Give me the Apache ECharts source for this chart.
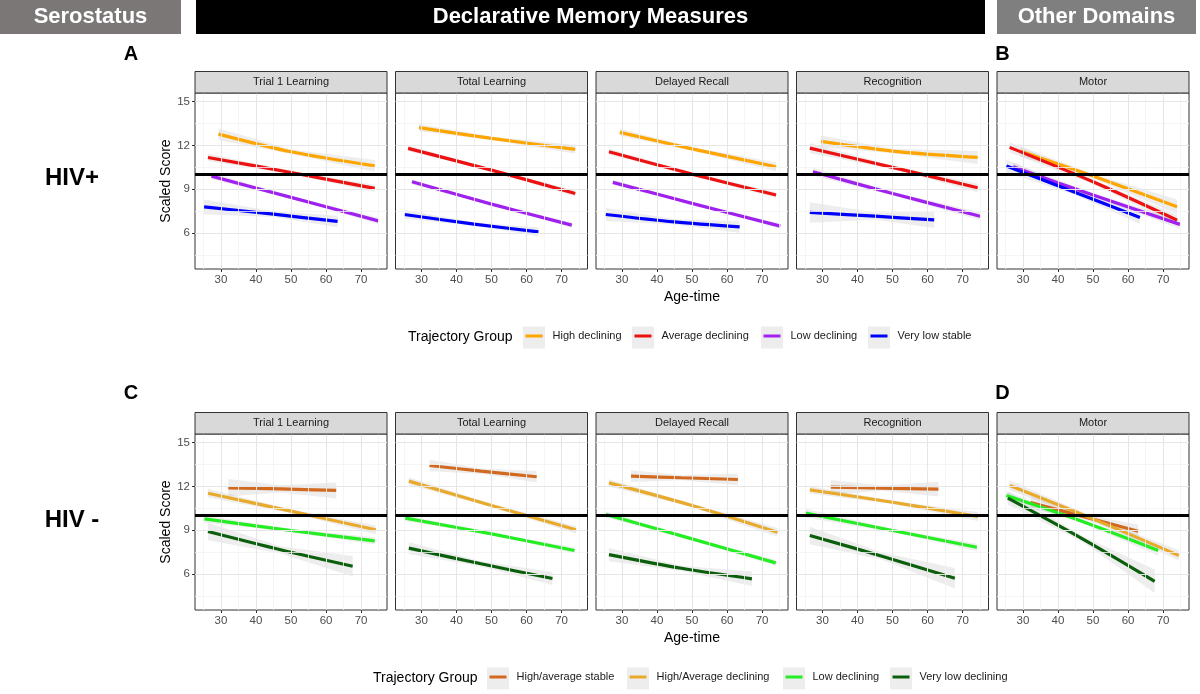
<!DOCTYPE html>
<html><head><meta charset="utf-8">
<script src="https://cdn.jsdelivr.net/npm/echarts@6/dist/echarts.min.js"></script>
<style>html,body{margin:0;padding:0;background:#fff}#c{width:1200px;height:694px}</style>
</head><body><div id="c"></div>
<script>
// ---------- chart data ----------
const panelNames = ['Trial 1 Learning', 'Total Learning', 'Delayed Recall', 'Recognition', 'Motor'];
const xTickVals = [30, 40, 50, 60, 70];
const xMinorVals = [25, 35, 45, 55, 65, 75];
const yTickVals = [6, 9, 12, 15];
const yMinorVals = [4.5, 7.5, 10.5, 13.5];
const refScore = 10;
const xRange = [22.6, 77.4];
const yRange = [3.53, 15.6];

const posGroups = ['High declining', 'Average declining', 'Low declining', 'Very low stable'];
const negGroups = ['High/average stable', 'High/Average declining', 'Low declining', 'Very low declining'];

// HIV+ : age-time (start, middle, end) of each fitted line per panel, scaled score, half-width of band
const posHighAge = [[29.3, 50, 73.9], [29.3, 50, 73.9], [29.4, 50, 74.0], [29.6, 50, 74.3], [29.3, 50, 74.0]];
const posHighScore = [[12.78, 11.57, 10.6], [13.22, 12.49, 11.73], [12.9, 11.77, 10.54], [12.28, 11.62, 11.18], [11.6, 9.9, 7.8]];
const posHighSE = [[0.4, 0.15, 0.4], [0.25, 0.12, 0.3], [0.25, 0.12, 0.3], [0.4, 0.15, 0.45], [0.35, 0.15, 0.5]];

const posAvgAge = [[26.3, 50, 73.9], [26.2, 50, 73.9], [26.3, 50, 74.0], [26.4, 50, 74.3], [26.2, 50, 74.0]];
const posAvgScore = [[11.18, 10.15, 9.06], [11.8, 10.31, 8.71], [11.57, 10.04, 8.6], [11.82, 10.5, 9.1], [11.87, 9.51, 6.88]];
const posAvgSE = [[0.25, 0.12, 0.25], [0.2, 0.1, 0.2], [0.2, 0.1, 0.2], [0.35, 0.12, 0.3], [0.35, 0.15, 0.35]];

const posLowAge = [[27.3, 50, 74.9], [27.3, 50, 72.9], [27.4, 50, 75.2], [27.3, 50, 75.0], [27.2, 50, 74.8]];
const posLowScore = [[9.9, 8.44, 6.83], [9.51, 7.98, 6.54], [9.47, 8.03, 6.47], [10.2, 8.71, 7.15], [10.54, 8.6, 6.59]];
const posLowSE = [[0.22, 0.1, 0.22], [0.18, 0.08, 0.18], [0.18, 0.08, 0.18], [0.28, 0.12, 0.28], [0.3, 0.12, 0.3]];

const posVlowAge = [[25.2, 45, 63.3], [25.1, 45, 63.4], [25.4, 45, 63.6], [26.4, 45, 61.9], [25.3, 45, 63.4]];
const posVlowScore = [[7.79, 7.29, 6.79], [7.27, 6.61, 6.08], [7.27, 6.76, 6.42], [7.41, 7.15, 6.9], [10.59, 8.78, 7.06]];
const posVlowSE = [[0.5, 0.2, 0.4], [0.3, 0.12, 0.3], [0.45, 0.18, 0.4], [0.7, 0.25, 0.55], [0.45, 0.18, 0.45]];

// HIV-
const negStableAge = [[32.1, 47, 62.9], [32.3, 47, 62.9], [32.6, 47, 63.1], [32.4, 47, 63.1], [32.2, 47, 62.9]];
const negStableScore = [[11.91, 11.83, 11.73], [13.44, 13.05, 12.67], [12.71, 12.6, 12.48], [11.95, 11.89, 11.82], [10.9, 9.95, 8.93]];
const negStableSE = [[0.6, 0.25, 0.55], [0.4, 0.18, 0.4], [0.4, 0.18, 0.4], [0.5, 0.18, 0.5], [0.45, 0.18, 0.45]];

const negDeclAge = [[26.3, 50, 74.2], [26.4, 50, 74.1], [26.3, 50, 74.4], [26.4, 50, 74.4], [26.2, 50, 74.5]];
const negDeclScore = [[11.54, 10.31, 9.03], [12.37, 10.7, 9.03], [12.25, 10.7, 8.86], [11.77, 10.92, 9.94], [12.07, 9.78, 7.27]];
const negDeclSE = [[0.3, 0.12, 0.3], [0.25, 0.12, 0.25], [0.25, 0.12, 0.3], [0.25, 0.12, 0.3], [0.35, 0.15, 0.35]];

const negLowAge = [[25.3, 50, 73.9], [25.4, 50, 73.7], [25.4, 50, 73.9], [25.2, 50, 74.1], [25.3, 47, 68.6]];
const negLowScore = [[9.78, 8.98, 8.27], [9.83, 8.75, 7.61], [10.08, 8.41, 6.76], [10.17, 8.98, 7.83], [11.38, 9.6, 7.61]];
const negLowSE = [[0.25, 0.1, 0.25], [0.2, 0.08, 0.2], [0.2, 0.1, 0.2], [0.3, 0.12, 0.25], [0.3, 0.12, 0.35]];

const negVlowAge = [[26.3, 47, 67.6], [26.4, 47, 67.4], [26.3, 47, 67.1], [26.4, 47, 67.8], [25.7, 47, 67.6]];
const negVlowScore = [[8.91, 7.66, 6.53], [7.77, 6.7, 5.69], [7.33, 6.39, 5.67], [8.64, 7.22, 5.71], [11.2, 8.41, 5.5]];
const negVlowSE = [[0.6, 0.25, 0.7], [0.4, 0.18, 0.45], [0.45, 0.18, 0.5], [0.6, 0.25, 0.7], [0.45, 0.2, 0.8]];

// ---------- styling / layout ----------
const FONT = '"Liberation Sans", Arial, Helvetica, sans-serif';
const posColors = ['#FFA500', '#EE1111', '#A020F0', '#0000FF'];
const negColors = ['#D2691E', '#E9AA2C', '#22EE22', '#0B5E0B'];
const gridLefts = [195, 395.5, 596, 796.5, 997];
const rowTops = [93, 434];
const PW = 192, PH = 176, STRIP = 21.5;

const rows = [
  { groups: posGroups, colors: posColors,
    ages: [posHighAge, posAvgAge, posLowAge, posVlowAge],
    scores: [posHighScore, posAvgScore, posLowScore, posVlowScore],
    ses: [posHighSE, posAvgSE, posLowSE, posVlowSE] },
  { groups: negGroups, colors: negColors,
    ages: [negStableAge, negDeclAge, negLowAge, negVlowAge],
    scores: [negStableScore, negDeclScore, negLowScore, negVlowScore],
    ses: [negStableSE, negDeclSE, negLowSE, negVlowSE] }
];

const grid = [], xAxis = [], yAxis = [], series = [], graphic = [];

function ribbon(gi, ages, scores, ses) {
  const pts = ages.map((a, i) => [a, scores[i] - ses[i], scores[i] + ses[i]]);
  return {
    type: 'custom', xAxisIndex: gi, yAxisIndex: gi, z: 3, silent: true, animation: false,
    data: [pts[0]], encode: { x: 0, y: [1, 2] }, clip: true,
    renderItem: function (params, api) {
      const up = pts.map(p => api.coord([p[0], p[2]]));
      const dn = pts.slice().reverse().map(p => api.coord([p[0], p[1]]));
      return { type: 'polygon', shape: { points: up.concat(dn) }, style: { fill: 'rgba(140,140,140,0.16)' } };
    }
  };
}

rows.forEach((row, r) => {
  panelNames.forEach((pn, c) => {
    const gi = r * 5 + c;
    grid.push({ left: gridLefts[c], top: rowTops[r], width: PW, height: PH, show: true,
      borderColor: '#333333', borderWidth: 1, backgroundColor: '#fff', containLabel: false });
    xAxis.push({ gridIndex: gi, type: 'value', min: xRange[0], max: xRange[1],
      axisLine: { show: false },
      axisTick: { show: true, length: 3, lineStyle: { color: '#333' }, customValues: xTickVals },
      axisLabel: { customValues: xTickVals, color: '#4D4D4D', fontSize: 11.5, margin: 5, fontFamily: FONT },
      splitLine: { show: false } });
    yAxis.push({ gridIndex: gi, type: 'value', min: yRange[0], max: yRange[1],
      axisLine: { show: false },
      axisTick: { show: c === 0, length: 3, lineStyle: { color: '#333' }, customValues: yTickVals },
      axisLabel: { show: c === 0, customValues: yTickVals, color: '#4D4D4D', fontSize: 11.5, margin: 5, fontFamily: FONT },
      splitLine: { show: false },
      name: c === 0 ? 'Scaled Score' : '', nameLocation: 'middle', nameGap: 22,
      nameTextStyle: { fontSize: 14, color: '#000', fontFamily: FONT } });
    // grid lines (minor + major)
    const mk = (vals, key, color, w) => vals.map(v => ({ [key]: v, lineStyle: { color: color, width: w, type: 'solid' } }));
    series.push({ type: 'line', xAxisIndex: gi, yAxisIndex: gi, data: [], z: 1, silent: true, animation: false,
      markLine: { silent: true, symbol: ['none', 'none'], label: { show: false }, animation: false,
        emphasis: { disabled: true },
        data: [].concat(
          mk(xMinorVals, 'xAxis', '#F2F2F2', 0.8), mk(yMinorVals, 'yAxis', '#F2F2F2', 0.8),
          mk(xTickVals, 'xAxis', '#E6E6E6', 1.1), mk(yTickVals, 'yAxis', '#E6E6E6', 1.1)) } });
    // reference line at 10
    series.push({ type: 'line', xAxisIndex: gi, yAxisIndex: gi, data: [], z: 2, silent: true, animation: false,
      markLine: { silent: true, symbol: ['none', 'none'], label: { show: false }, animation: false,
        emphasis: { disabled: true },
        data: [{ yAxis: refScore, lineStyle: { color: '#000', width: 3, type: 'solid' } }] } });
    row.groups.forEach((g, k) => {
      series.push(ribbon(gi, row.ages[k][c], row.scores[k][c], row.ses[k][c]));
    });
    row.groups.forEach((g, k) => {
      series.push({ type: 'line', name: g, xAxisIndex: gi, yAxisIndex: gi, z: 4, animation: false,
        data: row.ages[k][c].map((a, i) => [a, row.scores[k][c][i]]),
        showSymbol: false, symbol: 'none', smooth: 0.3,
        lineStyle: { width: 3.2, color: row.colors[k] }, itemStyle: { color: row.colors[k] },
        emphasis: { disabled: true } });
    });
    // strip
    graphic.push({ type: 'rect', shape: { x: gridLefts[c], y: rowTops[r] - STRIP, width: PW, height: STRIP },
      style: { fill: '#D9D9D9', stroke: '#333333', lineWidth: 1 }, z: 10 });
    graphic.push({ type: 'text', x: gridLefts[c] + PW / 2, y: rowTops[r] - STRIP / 2, z: 11,
      style: { text: pn, fill: '#1A1A1A', font: '11px ' + FONT, textAlign: 'center', textVerticalAlign: 'middle' } });
  });
});

// headers
const headers = [
  { text: 'Serostatus', x: 0, w: 181, fill: '#7B7777' },
  { text: 'Declarative Memory Measures', x: 196, w: 789, fill: '#000000' },
  { text: 'Other Domains', x: 997, w: 199, fill: '#7F7F7F' }
];
headers.forEach(h => {
  graphic.push({ type: 'rect', shape: { x: h.x, y: 0, width: h.w, height: 34 }, style: { fill: h.fill }, z: 10 });
  graphic.push({ type: 'text', x: h.x + h.w / 2, y: 17, z: 11,
    style: { text: h.text, fill: '#fff', font: 'bold 22px ' + FONT, textAlign: 'center', textVerticalAlign: 'middle' } });
});
const letters = [['A', 131, 54], ['B', 1002.5, 54], ['C', 131, 393], ['D', 1002.5, 393]];
letters.forEach(l => graphic.push({ type: 'text', x: l[1], y: l[2], z: 11,
  style: { text: l[0], fill: '#000', font: 'bold 20px ' + FONT, textAlign: 'center', textVerticalAlign: 'middle' } }));
[['HIV+', 72, 178], ['HIV -', 72, 520]].forEach(l => graphic.push({ type: 'text', x: l[1], y: l[2], z: 11,
  style: { text: l[0], fill: '#000', font: 'bold 24px ' + FONT, textAlign: 'center', textVerticalAlign: 'middle' } }));
[297, 638].forEach(y => graphic.push({ type: 'text', x: 692, y: y, z: 11,
  style: { text: 'Age-time', fill: '#000', font: '14px ' + FONT, textAlign: 'center', textVerticalAlign: 'middle' } }));
[[408, 337.5], [373, 678.5]].forEach(p => graphic.push({ type: 'text', x: p[0], y: p[1], z: 11,
  style: { text: 'Trajectory Group', fill: '#000', font: '14px ' + FONT, textAlign: 'left', textVerticalAlign: 'middle' } }));

// legends, one per item
const legendKeyLefts = [[523, 632, 761, 868], [487, 627, 783, 890]];
const legendY = [337.5, 678.5];
const legend = [];
rows.forEach((row, r) => {
  row.groups.forEach((g, k) => {
    const bx = legendKeyLefts[r][k];
    graphic.push({ type: 'rect', shape: { x: bx, y: legendY[r] - 11, width: 22, height: 22 },
      style: { fill: '#EDEDED' }, z: 1 });
    legend.push({ data: [{ name: g, itemStyle: { color: row.colors[k] } }],
      left: bx + 2.5, top: legendY[r] - 7, padding: 0, itemWidth: 17, itemHeight: 3, icon: 'rect',
      selectedMode: false, z: 12,
      textStyle: { fontSize: 11, color: '#1A1A1A', fontFamily: FONT, padding: [0, 0, 0, 5] } });
  });
});

const chart = echarts.init(document.getElementById('c'), null, { renderer: 'canvas' });
chart.setOption({
  animation: false, backgroundColor: '#fff',
  grid, xAxis, yAxis, series, legend, graphic
});
</script></body></html>
